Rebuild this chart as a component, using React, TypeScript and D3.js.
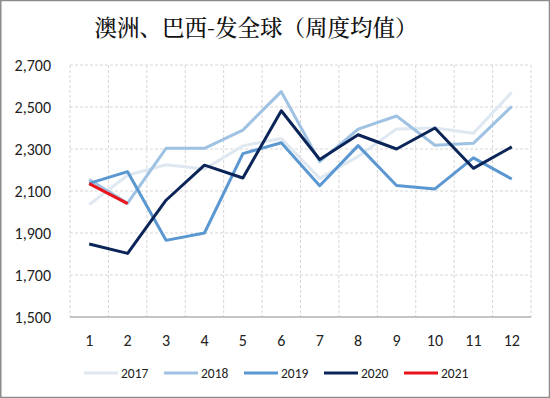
import React from 'react';
import * as d3 from 'd3';

// weeks on the x axis
const weeks = ['1', '2', '3', '4', '5', '6', '7', '8', '9', '10', '11', '12'];

const s2017 = [2035, 2175, 2225, 2205, 2315, 2350, 2160, 2265, 2395, 2400, 2375, 2570];
const s2018 = [2155, 2042, 2303, 2303, 2390, 2573, 2240, 2395, 2457, 2318, 2327, 2503];
const s2019 = [2136, 2192, 1865, 1900, 2278, 2330, 2125, 2316, 2126, 2110, 2258, 2157];
const s2020 = [1848, 1803, 2056, 2223, 2162, 2482, 2250, 2368, 2300, 2400, 2208, 2310];
const s2021 = [2135, 2040];

const yTicks = [1500, 1700, 1900, 2100, 2300, 2500, 2700];

const series = [
  { name: '2017', values: s2017, color: '#dfe8f1' },
  { name: '2018', values: s2018, color: '#9fc2e3' },
  { name: '2019', values: s2019, color: '#5b97d0' },
  { name: '2020', values: s2020, color: '#0c2558' },
  { name: '2021', values: s2021, color: '#e8131b' },
];

const W = 550;
const H = 398;
const margin = { top: 65, right: 19, bottom: 81, left: 70 };

export default function App(): JSX.Element {
  const x = d3.scaleBand<string>()
    .domain(weeks)
    .range([margin.left, W - margin.right]);

  const y = d3.scaleLinear()
    .domain([1500, 2700])
    .range([H - margin.bottom, margin.top]);

  const line = d3.line<number>()
    .x((_, i) => (x(weeks[i]) as number) + x.bandwidth() / 2)
    .y(d => y(d));

  const font = 'Carlito, Lato, "Liberation Sans", sans-serif';

  return (
    <svg
      width={W}
      height={H}
      style={{ position: 'absolute', left: 0, top: 0, background: '#fff' }}
    >
      <rect x={0.75} y={0.5} width={W - 1.25} height={H - 1} fill="#fff" stroke="#8c8c8c" strokeWidth={1.5} />

      <text
        x={256}
        y={36}
        textAnchor="middle"
        style={{ fontFamily: '"Noto Serif CJK SC", "Noto Sans CJK SC", serif', fontSize: '22.5px', fontWeight: 500 }}
        fill="#111"
      >
        澳洲、巴西-发全球（周度均值）
      </text>

      {/* grid */}
      {yTicks.slice(1).map(t => (
        <line
          key={t}
          x1={margin.left}
          x2={W - margin.right}
          y1={y(t)}
          y2={y(t)}
          stroke="#d6d6d6"
          strokeDasharray="3,2"
        />
      ))}
      {weeks.map(w => (
        <line
          key={w}
          x1={x(w) as number}
          x2={x(w) as number}
          y1={margin.top}
          y2={H - margin.bottom}
          stroke="#d6d6d6"
          strokeDasharray="3,2"
        />
      ))}
      <line
        x1={W - margin.right}
        x2={W - margin.right}
        y1={margin.top}
        y2={H - margin.bottom}
        stroke="#d6d6d6"
        strokeDasharray="3,2"
      />
      <line
        x1={margin.left}
        x2={W - margin.right}
        y1={H - margin.bottom}
        y2={H - margin.bottom}
        stroke="#8c8c8c"
        strokeWidth={1.2}
      />

      {/* y axis labels */}
      {yTicks.map(t => (
        <text
          key={t}
          x={51}
          y={y(t)}
          dy="0.35em"
          textAnchor="end"
          style={{ fontFamily: font, fontSize: '16px' }}
          fill="#222"
        >
          {d3.format(',')(t)}
        </text>
      ))}

      {/* x axis labels */}
      {weeks.map(w => (
        <text
          key={w}
          x={(x(w) as number) + x.bandwidth() / 2}
          y={H - margin.bottom + 23}
          dy="0.35em"
          textAnchor="middle"
          style={{ fontFamily: font, fontSize: '16px' }}
          fill="#222"
        >
          {w}
        </text>
      ))}

      {series.map(s => (
        <path
          key={s.name}
          d={line(s.values) || ''}
          fill="none"
          stroke={s.color}
          strokeWidth={3}
          strokeLinejoin="round"
        />
      ))}

      {/* legend */}
      {series.map((s, i) => {
        const lx = 84 + i * 80;
        return (
          <g key={s.name} transform={`translate(${lx},373)`}>
            <line x1={0} x2={34} stroke={s.color} strokeWidth={3} />
            <text
              x={37}
              dy="0.35em"
              style={{ fontFamily: font, fontSize: '13.5px' }}
              fill="#222"
            >
              {s.name}
            </text>
          </g>
        );
      })}
    </svg>
  );
}
